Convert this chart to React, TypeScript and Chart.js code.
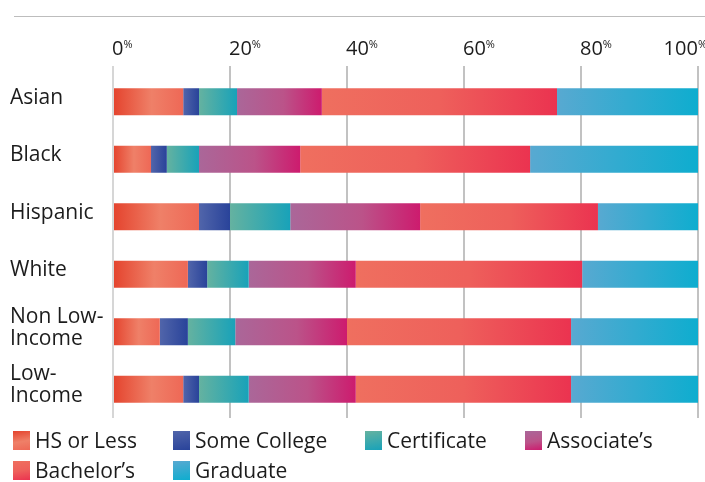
import { useEffect, useRef } from "react";
import { Chart, registerables } from "chart.js";

Chart.register(...registerables);

// Groups on the category axis (arrays become multi-line labels)
const groups: (string | string[])[] = [
  "Asian",
  "Black",
  "Hispanic",
  "White",
  ["Non Low-", "Income"],
  ["Low-", "Income"],
];

// Percentage axis ticks
const percentTicks = [0, 20, 40, 60, 80, 100];

const seriesNames = [
  "HS or Less",
  "Some College",
  "Certificate",
  "Associate\u2019s",
  "Bachelor\u2019s",
  "Graduate",
];

// Share of each group (%) by highest level of education
const hsOrLess = [12.0, 6.5, 14.7, 12.8, 8.0, 12.0];
const someCollege = [2.7, 2.7, 5.3, 3.3, 4.8, 2.7];
const certificate = [6.5, 5.5, 10.3, 7.1, 8.1, 8.5];
const associates = [14.5, 17.3, 22.2, 18.3, 19.1, 18.3];
const bachelors = [40.2, 39.3, 30.4, 38.7, 38.3, 36.8];
const graduate = [24.1, 28.7, 17.1, 19.8, 21.7, 21.7];

const seriesValues = [hsOrLess, someCollege, certificate, associates, bachelors, graduate];

// Left-to-right colour ramps used inside every bar segment
const seriesRamps: [number, string][][] = [
  [[0, "#e4432d"], [0.55, "#ef8068"], [1, "#ee6856"]],
  [[0, "#5165aa"], [1, "#29439a"]],
  [[0, "#65b2a0"], [1, "#18a2b9"]],
  [[0, "#aa6799"], [0.55, "#bb5389"], [1, "#cd1b6e"]],
  [[0, "#ef6f5f"], [0.5, "#ee605b"], [1, "#eb3350"]],
  [[0, "#58a9d1"], [1, "#0eadcf"]],
];

const FONT = "'Open Sans', 'Noto Sans', sans-serif";
const TEXT = "#1c1c1c";

// Tick labels on the top axis: number with a small raised percent sign
const percentLabels = {
  id: "percentLabels",
  afterDraw(chart: any) {
    const scale = chart.scales.x;
    const ctx = chart.ctx as CanvasRenderingContext2D;
    ctx.save();
    ctx.fillStyle = TEXT;
    ctx.textAlign = "left";
    ctx.textBaseline = "alphabetic";
    for (const t of scale.ticks) {
      const num = String(t.value);
      ctx.font = `20px ${FONT}`;
      const nw = ctx.measureText(num).width;
      ctx.font = `11px ${FONT}`;
      const pw = ctx.measureText("%").width;
      let x = scale.getPixelForValue(t.value) - 1;
      x = Math.min(x, chart.width - nw - pw + 2);
      ctx.font = `20px ${FONT}`;
      ctx.fillText(num, x, 55);
      ctx.font = `11px ${FONT}`;
      ctx.fillText("%", x + nw, 48);
    }
    ctx.restore();
  },
};

function segmentFill(ctx: any) {
  const chart = ctx.chart;
  const d = ctx.datasetIndex;
  const i = ctx.dataIndex;
  const ramp = seriesRamps[d];
  const scale = chart.scales && chart.scales.x;
  if (!scale || i === undefined) return ramp[ramp.length - 1][1];
  let start = 0;
  for (let k = 0; k < d; k++) start += seriesValues[k][i];
  const end = start + seriesValues[d][i];
  const x0 = scale.getPixelForValue(start);
  const x1 = scale.getPixelForValue(end);
  if (!isFinite(x0) || !isFinite(x1) || x1 - x0 < 0.5) return ramp[ramp.length - 1][1];
  const g = chart.ctx.createLinearGradient(x0, 0, x1, 0);
  for (const [o, c] of ramp) g.addColorStop(o, c);
  return g;
}

function swatch(ramp: [number, string][]) {
  const stops = ramp.map(([o, c]) => `${c} ${Math.round(o * 100)}%`).join(", ");
  return `linear-gradient(170deg, ${stops})`;
}

export default function App() {
  const canvasRef = useRef<HTMLCanvasElement | null>(null);

  useEffect(() => {
    if (!canvasRef.current) return;
    const chart = new Chart(canvasRef.current, {
      type: "bar",
      data: {
        labels: groups as any,
        datasets: seriesNames.map((name, d) => ({
          label: name,
          data: seriesValues[d],
          backgroundColor: segmentFill,
          borderWidth: 0,
          barPercentage: 0.47,
          categoryPercentage: 1,
        })),
      },
      options: {
        indexAxis: "y",
        animation: false,
        responsive: true,
        maintainAspectRatio: false,
        layout: { padding: { left: 10, right: 7, top: 66, bottom: 64 } },
        plugins: {
          legend: { display: false },
          tooltip: { enabled: false },
        },
        scales: {
          x: {
            position: "top",
            stacked: true,
            min: 0,
            max: 100,
            afterBuildTicks: (scale: any) => {
              scale.ticks = percentTicks.map((v) => ({ value: v }));
            },
            ticks: { display: false },
            border: { display: false },
            grid: {
              drawTicks: true,
              tickLength: 7,
              lineWidth: 2,
              color: (c: any) => (c.index === 0 ? "#d6d6d6" : "#c2c2c2"),
            },
          },
          y: {
            stacked: true,
            afterFit: (scale: any) => {
              scale.width = 103;
            },
            grid: { display: false, drawTicks: false },
            border: { display: false },
            ticks: {
              crossAlign: "far",
              padding: 0,
              labelOffset: -4,
              color: TEXT,
              font: { family: FONT, size: 21, lineHeight: 1.05 },
            },
          },
        },
      },
      plugins: [percentLabels],
    });
    return () => chart.destroy();
  }, []);

  return (
    <div
      style={{
        position: "absolute",
        left: 0,
        top: 0,
        width: 705,
        height: 482,
        background: "#fff",
        overflow: "hidden",
        fontFamily: FONT,
      }}
    >
      <div
        style={{
          position: "absolute",
          left: 14,
          right: 0,
          top: 16,
          height: 1,
          background: "#bdbdbd",
        }}
      />
      <div style={{ position: "absolute", left: 0, top: 0, width: 705, height: 482 }}>
        <canvas ref={canvasRef} />
      </div>
      <div
        style={{
          position: "absolute",
          left: 13,
          top: 425,
          display: "grid",
          gridTemplateColumns: "160px 192px 160px auto",
          gridAutoRows: "30px",
          alignItems: "center",
          color: TEXT,
          fontSize: 21,
        }}
      >
        {seriesNames.map((name, d) => (
          <div key={name} style={{ display: "flex", alignItems: "center", whiteSpace: "nowrap" }}>
            <span
              style={{
                display: "inline-block",
                width: 17,
                height: 19,
                marginRight: 5,
                background: swatch(seriesRamps[d]),
              }}
            />
            <span>{name}</span>
          </div>
        ))}
      </div>
    </div>
  );
}
